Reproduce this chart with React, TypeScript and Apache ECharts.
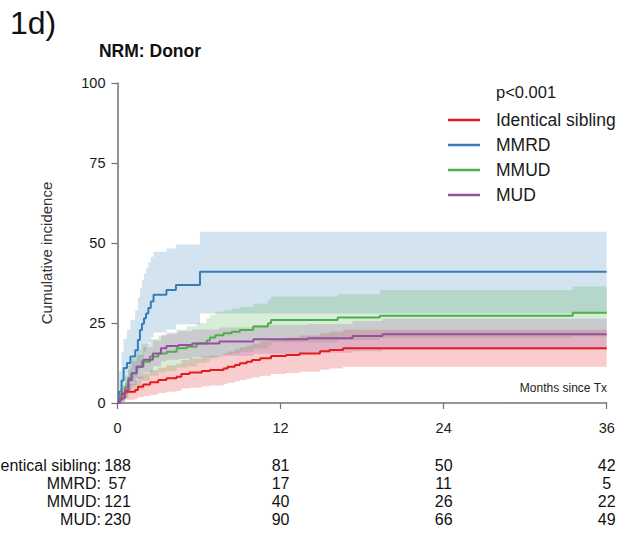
import React, { useEffect, useRef } from "react";
import * as echarts from "echarts";

// Cumulative incidence of non-relapse mortality by donor type
const GROUPS = ["Identical sibling", "MMRD", "MMUD", "MUD"];
const COLORS = ["#e41a1c", "#377eb8", "#4daf4a", "#984ea3"];
const BAND_COLORS = [
  "rgba(228,26,28,0.22)",
  "rgba(55,126,184,0.22)",
  "rgba(77,175,74,0.22)",
  "rgba(152,78,163,0.22)",
];

const MONTH_TICKS = [0, 12, 24, 36];
const P_VALUE = "p<0.001";

// [month, cumulative incidence %]
const SIBLING_CURVE = [
  [0, 0], [0.1, 1], [0.3, 3], [0.6, 3.5], [1.3, 4.1], [1.5, 5.1], [1.9, 5.8],
  [2.4, 6.5], [3.0, 7.2], [3.6, 7.7], [4.35, 8.2], [4.7, 9.1], [5.3, 9.5],
  [6.2, 10], [6.8, 10.3], [7.8, 10.8], [8.1, 11.3], [8.64, 11.9], [9.0, 12.4],
  [9.5, 12.9], [9.9, 13.4], [10.5, 14], [11.3, 14.7], [12.4, 15], [13.4, 15.5],
  [14.9, 16.2], [15.6, 16.6], [16.6, 17.1], [36, 17.1],
];
const MMRD_CURVE = [
  [0, 0], [0.1, 3.5], [0.3, 7], [0.45, 10.9], [0.7, 12.5], [0.95, 14.5],
  [1.3, 16.5], [1.5, 19.7], [1.65, 22.8], [1.8, 24.8], [1.95, 26.5], [2.1, 28],
  [2.27, 29.7], [2.45, 31.7], [2.65, 33.8], [3.6, 35.3], [4.3, 36.9],
  [6.07, 41], [36, 41],
];
const MMUD_CURVE = [
  [0, 0], [0.18, 2], [0.55, 5], [0.8, 7.8], [1.04, 9.3], [1.41, 11.3],
  [1.78, 12.9], [2.39, 14.5], [3.0, 15.5], [3.62, 16], [4.35, 17.1],
  [5.09, 17.6], [5.82, 18.6], [6.56, 19.5], [6.8, 20.5], [7.2, 21.2],
  [7.8, 21.8], [8.4, 22.3], [9.0, 22.8], [9.98, 23.9], [11.07, 24.9],
  [11.3, 25.9], [16.2, 26.7], [19.3, 27.3], [33.5, 28.2], [36, 28.2],
];
const MUD_CURVE = [
  [0, 0], [0.18, 1.5], [0.55, 4], [0.8, 7.2], [1.04, 9.3], [1.41, 11.3],
  [1.9, 13.5], [2.6, 15.5], [3.2, 17.1], [3.6, 17.8], [4.5, 18.1], [5.5, 18.6],
  [7.5, 19.2], [10, 19.9], [14, 20.2], [17.3, 20.9], [19.5, 21.5], [36, 21.5],
];

// [month, lower 95% CI, upper 95% CI]
const SIBLING_BAND = [
  [0, 0, 0], [0.1, 0, 2.5], [0.3, 0.8, 5.5], [0.6, 1, 6], [1.3, 1.3, 7],
  [1.5, 1.8, 8.3], [1.9, 2.2, 9.2], [2.4, 2.6, 10.2], [3.0, 3.1, 11],
  [3.6, 3.5, 11.7], [4.35, 3.8, 12.3], [4.7, 4.5, 13.4], [5.3, 4.8, 13.9],
  [6.2, 5.2, 14.5], [6.8, 5.5, 14.8], [7.8, 5.9, 15.5], [8.1, 6.3, 16.1],
  [8.64, 6.8, 16.8], [9.0, 7.2, 17.4], [9.5, 7.6, 18], [9.9, 8, 18.6],
  [10.5, 8.5, 19.3], [11.3, 9.1, 20.1], [12.4, 9.4, 20.5], [13.4, 9.8, 21.1],
  [14.9, 10.4, 21.8], [15.6, 10.8, 22.3], [16.6, 11.3, 22.9], [36, 11.3, 22.9],
];
const MMRD_BAND = [
  [0, 0, 0], [0.1, 0.5, 10], [0.3, 2, 16], [0.45, 4, 20], [0.7, 5, 23],
  [0.95, 6.5, 26], [1.3, 8, 29], [1.5, 10.5, 33], [1.65, 12.5, 36],
  [1.8, 14, 38.5], [1.95, 16, 40.5], [2.1, 17.5, 42], [2.27, 19, 44],
  [2.45, 20.5, 45.7], [2.65, 22, 47.3], [3.6, 23, 48.3], [4.3, 24.5, 49.5],
  [6.07, 28, 53.5], [36, 28, 53.5],
];
const MMUD_BAND = [
  [0, 0, 0], [0.18, 0.3, 4.5], [0.55, 1.5, 8.5], [0.8, 3, 12], [1.04, 4.5, 14],
  [1.41, 5.5, 16.5], [1.78, 7, 18.5], [2.39, 8.5, 20], [3.0, 9.5, 21],
  [3.62, 10, 21.5], [4.35, 11, 23], [5.09, 11.5, 24], [5.82, 12.5, 25],
  [6.56, 13, 26.5], [6.8, 14, 27.5], [7.2, 14.5, 28.5], [7.8, 15, 29],
  [8.4, 15.5, 29.5], [9.0, 16, 30], [9.98, 17, 31], [11.07, 18, 32.3],
  [11.3, 19, 33.3], [16.2, 19.7, 34], [19.3, 20.3, 35.3], [33.5, 20.8, 36.4],
  [36, 20.8, 36.4],
];
const MUD_BAND = [
  [0, 0, 0], [0.18, 0.3, 3], [0.55, 1.8, 6.5], [0.8, 4, 10.5], [1.04, 5.5, 13],
  [1.41, 7.5, 15], [1.9, 9.5, 17.5], [2.6, 11.5, 19.5], [3.2, 13, 21.3],
  [3.6, 13.5, 22], [4.5, 13.8, 22.5], [5.5, 14.3, 23], [7.5, 14.8, 23.6],
  [10, 15.4, 24.4], [14, 15.7, 24.7], [17.3, 16.2, 25.6], [19.5, 16.7, 26.3],
  [36, 16.7, 26.3],
];

// Numbers at risk at 0, 12, 24 and 36 months
const SIBLING_AT_RISK = [188, 81, 50, 42];
const MMRD_AT_RISK = [57, 17, 11, 5];
const MMUD_AT_RISK = [121, 40, 26, 22];
const MUD_AT_RISK = [230, 90, 66, 49];

const CURVES = [SIBLING_CURVE, MMRD_CURVE, MMUD_CURVE, MUD_CURVE];
const BANDS = [SIBLING_BAND, MMRD_BAND, MMUD_BAND, MUD_BAND];
const AT_RISK = [SIBLING_AT_RISK, MMRD_AT_RISK, MMUD_AT_RISK, MUD_AT_RISK];

const FONT = "'Liberation Sans', Arial, Helvetica, sans-serif";
const AXIS_GREY = "#727272";
const TEXT = "#1a1a1a";

function bandSeries(rows: number[][], fill: string, name: string) {
  return {
    type: "custom",
    name,
    data: rows,
    encode: { x: 0, y: [1, 2] },
    silent: true,
    z: 1,
    clip: true,
    renderItem: (params: any, api: any) => {
      if (params.dataIndex !== 0) return null;
      const pts: number[][] = [];
      // upper edge as a step function, left to right
      for (let i = 0; i < rows.length; i++) {
        if (i > 0) pts.push(api.coord([rows[i][0], rows[i - 1][2]]));
        pts.push(api.coord([rows[i][0], rows[i][2]]));
      }
      // lower edge back, right to left
      for (let i = rows.length - 1; i >= 0; i--) {
        pts.push(api.coord([rows[i][0], rows[i][1]]));
        if (i > 0) pts.push(api.coord([rows[i][0], rows[i - 1][1]]));
      }
      return { type: "polygon", shape: { points: pts }, style: { fill } };
    },
  };
}

export default function App() {
  const ref = useRef<HTMLDivElement>(null);

  useEffect(() => {
    if (!ref.current) return;
    const chart = echarts.init(ref.current, undefined, { renderer: "svg" });

    const series: any[] = [];
    BANDS.forEach((rows, i) => series.push(bandSeries(rows, BAND_COLORS[i], GROUPS[i] + " CI")));
    CURVES.forEach((pts, i) =>
      series.push({
        type: "line",
        name: GROUPS[i],
        data: pts,
        step: "end",
        showSymbol: false,
        color: COLORS[i],
        lineStyle: { width: 2, color: COLORS[i] },
        z: 3,
      })
    );

    const axisCommon = {
      axisLine: { show: true, lineStyle: { color: AXIS_GREY, width: 1.5 } },
      axisTick: { show: true, length: 6, lineStyle: { color: AXIS_GREY, width: 1.2 } },
      splitLine: { show: false },
      axisLabel: { color: TEXT, fontSize: 14.5, fontFamily: FONT },
    };

    chart.setOption({
      animation: false,
      textStyle: { fontFamily: FONT },
      grid: { left: 117.5, right: 12.3, top: 83, bottom: 134, containLabel: false },
      xAxis: {
        type: "value",
        min: 0,
        max: 36,
        interval: 12,
        ...axisCommon,
        axisLabel: { ...axisCommon.axisLabel, margin: 17 },
      },
      yAxis: {
        type: "value",
        min: 0,
        max: 100,
        interval: 25,
        ...axisCommon,
        axisLabel: { ...axisCommon.axisLabel, margin: 12 },
      },
      legend: {
        data: GROUPS,
        orient: "vertical",
        left: 443,
        top: 106,
        icon: "rect",
        itemWidth: 32,
        itemHeight: 2.5,
        itemGap: 7,
        selectedMode: false,
        textStyle: {
          color: TEXT,
          fontSize: 17.5,
          lineHeight: 17,
          fontFamily: FONT,
          padding: [0, 0, 0, 11],
        },
      },
      series,
    });

    const rowY = [465, 483, 501, 519];
    const graphic: any[] = [
      {
        type: "text",
        left: 10,
        top: 7,
        style: { text: "1d)", fontSize: 32, fill: "#111", fontFamily: FONT },
      },
      {
        type: "text",
        x: 150,
        y: 51,
        style: {
          text: "NRM: Donor",
          fontSize: 17.5,
          fontWeight: "bold",
          fill: "#111",
          fontFamily: FONT,
          align: "center",
          verticalAlign: "middle",
        },
      },
      {
        type: "text",
        x: 46,
        y: 253,
        rotation: Math.PI / 2,
        style: {
          text: "Cumulative incidence",
          fontSize: 15,
          fill: "#333",
          fontFamily: FONT,
          align: "center",
          verticalAlign: "middle",
        },
      },
      {
        type: "text",
        x: 496,
        y: 92,
        style: { text: P_VALUE, fontSize: 16.5, fill: TEXT, fontFamily: FONT, verticalAlign: "middle" },
      },
      {
        type: "text",
        x: 607,
        y: 388,
        style: {
          text: "Months since Tx",
          fontSize: 12,
          fill: "#222",
          fontFamily: FONT,
          align: "right",
          verticalAlign: "middle",
        },
      },
    ];
    GROUPS.forEach((g, r) => {
      graphic.push({
        type: "text",
        x: 101,
        y: rowY[r],
        style: {
          text: g + ":",
          fontSize: 16,
          fill: "#111",
          fontFamily: FONT,
          align: "right",
          verticalAlign: "middle",
        },
      });
      AT_RISK[r].forEach((n, c) => {
        const px = chart.convertToPixel({ xAxisIndex: 0 }, MONTH_TICKS[c]) as number;
        graphic.push({
          type: "text",
          x: px,
          y: rowY[r],
          style: {
            text: String(n),
            fontSize: 16,
            fill: "#111",
            fontFamily: FONT,
            align: "center",
            verticalAlign: "middle",
          },
        });
      });
    });
    chart.setOption({ graphic });

    return () => chart.dispose();
  }, []);

  return (
    <div
      ref={ref}
      style={{ position: "absolute", left: 0, top: 0, width: 619, height: 537, background: "#fff" }}
    />
  );
}
